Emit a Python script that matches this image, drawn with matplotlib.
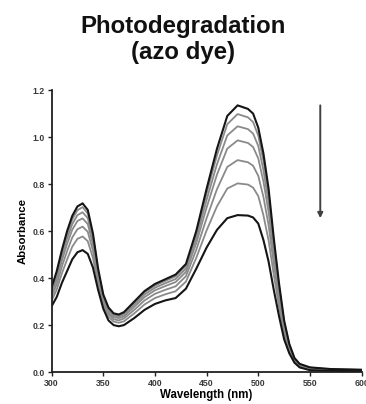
import matplotlib
matplotlib.use("Agg")
import matplotlib.pyplot as plt

wavelength = [300, 305, 310, 315, 320, 325, 330, 335, 340, 345, 350, 355, 360, 365,
              370, 380, 390, 400, 410, 420, 430, 440, 450, 460, 470, 480, 490, 495,
              500, 505, 510, 515, 520, 525, 530, 535, 540, 550, 570, 600]

abs_t0 = [0.36, 0.43, 0.52, 0.60, 0.665, 0.705, 0.718, 0.69, 0.59, 0.44, 0.33, 0.275, 0.25, 0.245,
          0.255, 0.30, 0.345, 0.375, 0.395, 0.415, 0.46, 0.60, 0.78, 0.95, 1.09, 1.135, 1.12, 1.10,
          1.04, 0.93, 0.78, 0.57, 0.38, 0.22, 0.12, 0.06, 0.035, 0.02, 0.013, 0.01]
abs_t1 = [0.354, 0.421, 0.509, 0.586, 0.650, 0.689, 0.702, 0.675, 0.578, 0.433, 0.325, 0.271, 0.246, 0.241,
          0.251, 0.294, 0.339, 0.368, 0.388, 0.407, 0.452, 0.587, 0.76, 0.922, 1.055, 1.098, 1.084, 1.064,
          1.006, 0.899, 0.755, 0.552, 0.369, 0.214, 0.117, 0.058, 0.034, 0.019, 0.012, 0.0095]
abs_t2 = [0.345, 0.409, 0.493, 0.568, 0.630, 0.668, 0.680, 0.655, 0.562, 0.423, 0.319, 0.265, 0.241, 0.236,
          0.245, 0.287, 0.330, 0.359, 0.378, 0.396, 0.440, 0.570, 0.733, 0.884, 1.007, 1.046, 1.034, 1.015,
          0.962, 0.859, 0.721, 0.528, 0.353, 0.205, 0.112, 0.056, 0.032, 0.018, 0.011, 0.009]
abs_t3 = [0.334, 0.395, 0.475, 0.546, 0.606, 0.643, 0.654, 0.630, 0.543, 0.411, 0.311, 0.257, 0.234, 0.229,
          0.237, 0.278, 0.319, 0.348, 0.366, 0.383, 0.426, 0.549, 0.70, 0.840, 0.951, 0.986, 0.975, 0.958,
          0.909, 0.811, 0.681, 0.50, 0.335, 0.194, 0.107, 0.054, 0.030, 0.016, 0.010, 0.008]
abs_t4 = [0.32, 0.375, 0.45, 0.515, 0.573, 0.608, 0.619, 0.597, 0.517, 0.395, 0.30, 0.248, 0.225, 0.22,
          0.228, 0.265, 0.305, 0.333, 0.35, 0.365, 0.408, 0.52, 0.655, 0.778, 0.873, 0.902, 0.893, 0.878,
          0.835, 0.745, 0.625, 0.46, 0.31, 0.18, 0.10, 0.05, 0.028, 0.014, 0.009, 0.007]
abs_t5 = [0.303, 0.352, 0.421, 0.479, 0.534, 0.567, 0.577, 0.557, 0.486, 0.376, 0.287, 0.236, 0.215, 0.21,
          0.216, 0.250, 0.288, 0.315, 0.331, 0.344, 0.385, 0.486, 0.603, 0.705, 0.781, 0.803, 0.798, 0.785,
          0.749, 0.667, 0.56, 0.414, 0.281, 0.163, 0.092, 0.046, 0.024, 0.011, 0.007, 0.006]
abs_t6 = [0.28, 0.32, 0.38, 0.43, 0.48, 0.51, 0.519, 0.503, 0.445, 0.35, 0.27, 0.22, 0.20, 0.195,
          0.20, 0.23, 0.265, 0.29, 0.305, 0.315, 0.355, 0.44, 0.53, 0.605, 0.655, 0.668, 0.666, 0.658,
          0.632, 0.562, 0.47, 0.35, 0.24, 0.14, 0.08, 0.04, 0.02, 0.008, 0.005, 0.004]

series = [abs_t0, abs_t1, abs_t2, abs_t3, abs_t4, abs_t5, abs_t6]

x_ticks = [300, 350, 400, 450, 500, 550, 600]
y_ticks = [0.0, 0.2, 0.4, 0.6, 0.8, 1.0, 1.2]

plt.rcParams['font.family'] = ['Liberation Sans', 'DejaVu Sans']

fig = plt.figure(figsize=(3.66, 4.04), dpi=100)
ax = fig.add_axes([0.141, 0.079, 0.847, 0.698])

n = len(series)
for i in range(1, n - 1):
    ax.plot(wavelength, series[i], color='#8a8a8a', lw=1.3, solid_joinstyle='round')
for i in (0, n - 1):
    ax.plot(wavelength, series[i], color='#151515', lw=1.5, solid_joinstyle='round')

ax.annotate('', xy=(560, 0.655), xytext=(560, 1.135),
            arrowprops=dict(arrowstyle='-|>,head_length=0.3,head_width=0.15',
                            color='#404040', lw=1.4, shrinkA=0, shrinkB=0))

ax.set_xlim(300, 600)
ax.set_ylim(0, 1.2)
ax.set_xticks(x_ticks)
ax.set_yticks(y_ticks)
ax.set_xticklabels([str(v) for v in x_ticks])
ax.set_yticklabels([f'{v:.1f}' for v in y_ticks])
for s in ('top', 'right'):
    ax.spines[s].set_visible(False)
for s in ('left', 'bottom'):
    ax.spines[s].set_linewidth(1.3)
    ax.spines[s].set_color('#202020')
ax.tick_params(direction='out', length=3, width=1, pad=2, labelsize=6.3,
               colors='#202020')
for lab in ax.get_xticklabels() + ax.get_yticklabels():
    lab.set_fontweight('bold')
    lab.set_color('#3a3a3a')

ax.set_ylabel('Absorbance', fontsize=8.2, fontweight='bold', labelpad=3)
ax.set_xlabel('Wavelength (nm)', fontsize=8.3, fontweight='bold', labelpad=1)

fig.text(0.5, 0.903, 'Photodegradation\n(azo dye)', ha='center', va='center',
         fontsize=17.3, fontweight='bold', linespacing=1.15, color='#111111')

fig.savefig('out.png', dpi=100)
